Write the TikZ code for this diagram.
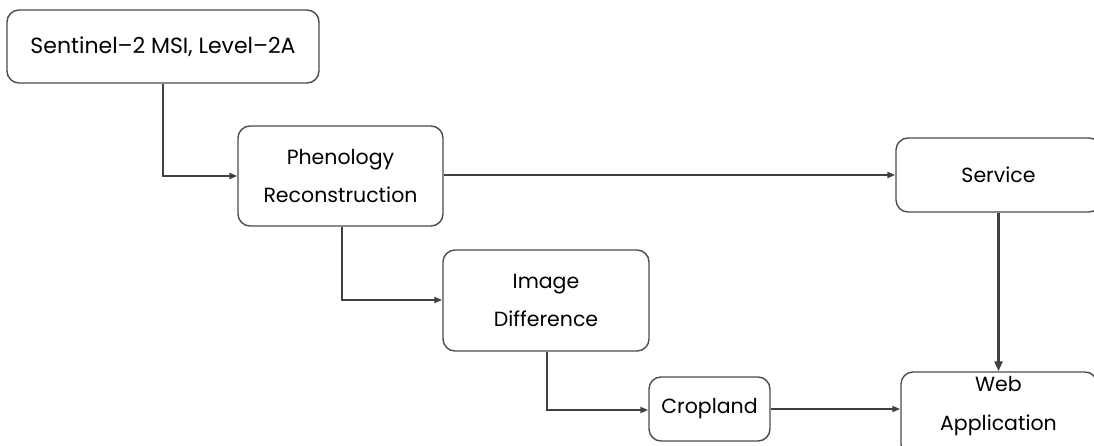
\documentclass[tikz,border=0pt]{standalone}
\usepackage{fontspec}
\setmainfont{Poppins}
\usetikzlibrary{arrows.meta}
\begin{document}
\begin{tikzpicture}[x=1pt,y=-1pt,
  lbl/.style={font=\fontsize{20.5}{38.5}\selectfont,text=black},
  box/.style={lbl,draw=black!70,line width=1.4pt,rounded corners=12pt,inner sep=0pt,align=center},
  conn/.style={draw=black!75,line width=2pt,-{Triangle[length=8pt,width=6pt]}},
  thick conn/.style={conn,line width=3pt,-{Triangle[length=10pt,width=8pt]}}]
\useasboundingbox (0,0) rectangle (1094,446);
\node[box,minimum width=312pt,minimum height=73pt,font=\fontsize{22}{38.5}\selectfont] (sen) at (163,46.5) {Sentinel–2 MSI, Level–2A};
\node[box,minimum width=205pt,minimum height=100pt] (phen) at (340.5,176) {Phenology\\Reconstruction};
\node[box,minimum width=205pt,minimum height=74pt] (serv) at (998.5,175) {Service};
\node[box,minimum width=206pt,minimum height=101pt] (diff) at (546,300.5) {Image\\Difference};
\node[box,minimum width=121pt,minimum height=64pt] (crop) at (709.5,409) {Cropland};
\node[box,minimum width=196pt,minimum height=84pt] (web) at (999,414) {};
\node[lbl,align=center,inner sep=0pt] (webtxt) at (998.5,406) {Web\\Application};
\coordinate (c1) at (163,176);
\coordinate (c2) at (342,300);
\coordinate (c3) at (547,410);
\draw[conn] (sen.south -| c1) -- (c1) -- (phen.west |- c1);
\draw[conn] (phen.east |- serv) -- (serv.west);
\draw[conn] (phen.south -| c2) -- (c2) -- (diff.west |- c2);
\draw[conn] (diff.south -| c3) -- (c3) -- (crop.west |- c3);
\draw[conn] (crop.east) -- (web.west |- crop);
\draw[thick conn] (serv.south) -- (serv.south |- web.north);
\end{tikzpicture}
\end{document}
